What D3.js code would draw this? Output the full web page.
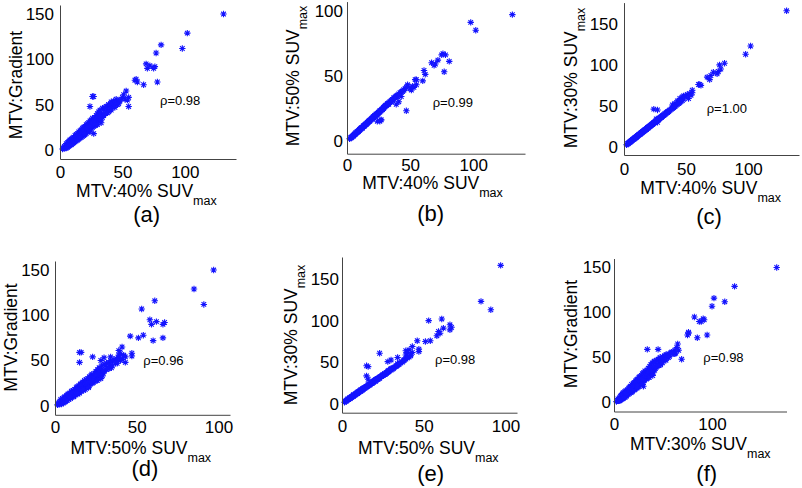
<!DOCTYPE html>
<html><head><meta charset="utf-8">
<script src="https://cdn.jsdelivr.net/npm/d3@7"></script>
<style>
body{margin:0;background:#fff}
svg{display:block}
text{font-family:"Liberation Sans",Arial,Helvetica,sans-serif;fill:#000}
</style>
</head><body>
<svg id="c" width="802" height="488"></svg>
<script>
// ---- data: metabolic tumour volume per lesion, four segmentation methods ----
const mtv40 = [131,102,98,81,77,78,76,75,72,69,70,67,61,62,60,53,51,50,52,55,54,55,48,45,43,41,39,26,27,24,47,
 2,3,3.5,4,4.5,5,5,5.5,6,6, 6.5,7,7,7.5,8,8,8.5,9,9,9.5, 10,10,10.5,11,11,11.5,12,12,12.5,13,
 13,13.5,14,14,14.5,15,15,15.5,16,16, 16.5,17,17,17.5,18,18,18.5,19,19,19.5, 20,20,20.5,21,21,21.5,22,22,22.5,23,
 23,23.5,24,24,24.5,25,25,25.5,26,26, 26.5,27,27,27.5,28,28,28.5,29,29,29.5, 30,30,30.5,31,31,32,32,33,33,34,
 34,35,35,36,37,37,38,39,39,40, 40,41,42,43,44,45,46,47,48,
 3,4,5,6,7,8,9,10,11,12, 13,14,15,16,17,18,19,20,21,22, 23,24,25,26,27,28,29,30,31,32, 33,35,36,38,41,44];
const mtv50 = [97,85,91,61,53,66,67,66,62,58,59,60,54,51,46,41,39,40,42,47,47,43,43,39,34,30,28,15,16,15,23,
 1.5,2,2.5,3,3.5,4,3.5,4.5,4.5,5, 5,5.5,6,6,6.5,7,7,7.5,7,8, 8,8.5,9,9,9.5,10,10,9.5,10.5,11,
 11.5,11,12,11.5,12.5,13,12.5,13,13.5,14, 14,14.5,15,15,15.5,15,16,16.5,16,17, 17,17.5,18,18,18.5,18.5,19,19.5,19,20,
 20.5,20,21,20.5,21,22,21.5,22,22.5,23, 23,23.5,16,24,24.5,24,25,25,25.5,26, 26,26.5,27,27,27.5,28,28.5,29,28.5,30,
 29.5,31,30,31.5,32,33,33.5,34,34.5,35, 34,36,37,37.5,38,39,40,41,42,
 2.5,3,4,5,6,6.5,7.5,8.5,9.5,10, 11,12,12.5,13.5,14.5,15.5,16,17,18,19, 19.5,20.5,21.5,22,23,24,25,26,27,28, 28,30,31.5,33,35,38];
const mtv30 = [166,123,113,102,100,95,92,89,91,82,87,85,76,75,76,65,64,62,59,66,63,69,62,59,56,53,51,34,45,46,61,
 2.5,3.5,4,5,5.5,6,6.5,7,7.5,7, 8,8.5,9,9,10,9.5,10.5,11,11.5,11, 12,12.5,13,13.5,13,14,15,14.5,15,16,
 15.5,16.5,17,17.5,17,18,18.5,19,19.5,19, 20,20.5,21,21,22,21.5,22.5,23,23.5,23, 24,24.5,25,25.5,25,26,26.5,27,27.5,28,
 27.5,28.5,29,29.5,30,30,30.5,31,31.5,31, 32,33,30,33.5,34,33.5,34.5,35,35.5,36, 36.5,36,37,37.5,38,38.5,39,40,40.5,41,
 41.5,42,43,43.5,44.5,45,46,47,47.5,48, 48.5,49.5,50.5,52,53,54,55.5,56.5,58,
 4,5,6,7.5,8.5,9.5,11,12,13.5,14.5, 15.5,17,18,19.5,20.5,21.5,23,24,25.5,26.5, 27.5,29,30,31,32.5,33.5,35,36,37.5,38.5, 39.5,42,43,46,49.5,53];
const gradient = [150,129,112,116,107,75,92,90,93,95,90,72,78,75,77,65,61,58,56,58,55,48,54,56,54,53,50,59,59,48,54,
 1,2,4,2,5,3,7,4,8,3, 5,9,4,10,6,11,7,12,6,8, 13,7,10,14,8,12,16,9,11,17,
 10,14,18,11,15,20,12,16,21,13, 17,22,14,19,24,15,20,25,16,21, 26,17,22,28,18,24,29,20,25,30,
 21,27,32,22,28,33,24,29,35,25, 31,26,18,33,36,27,30,38,28,34, 40,30,35,42,31,38,44,33,40,46,
 36,45,39,47,41,48,44,50,42,49, 45,51,47,52,49,53,50,51,55,
 2,3,2,4,8,5,6,11,10,13, 15,12,16,14,19,22,23,18,25,24, 26,20,27,31,29,32,35,28,37,34, 30,38,40,41,44,47];

// axis limits and ticks
const lim40 = [0,141], lim50x = [0,107], lim30x = [0,176];
const limGrad = [-10,160], lim50y = [-10,107], lim30y = [-10,176];
const ticks40 = [0,50,100], ticks50 = [0,50,100], ticks30x = [0,100];
const ticksGrad = [0,50,100,150], ticks50y = [0,50,100], ticks30y = [0,50,100,150];
const captions = ["(a)","(b)","(c)","(d)","(e)","(f)"];
const rhoLabels = ["ρ=0.98","ρ=0.99","ρ=1.00","ρ=0.96","ρ=0.98","ρ=0.98"];

const panels = [
 {x:mtv40, y:gradient, xd:lim40, yd:limGrad, xt:ticks40, yt:ticksGrad, xl:["MTV:40% SUV","max"], yl:["MTV:Gradient",""]},
 {x:mtv40, y:mtv50,    xd:lim40, yd:lim50y,  xt:ticks40, yt:ticks50y,  xl:["MTV:40% SUV","max"], yl:["MTV:50% SUV","max"]},
 {x:mtv40, y:mtv30,    xd:lim40, yd:lim30y,  xt:ticks40, yt:ticks30y,  xl:["MTV:40% SUV","max"], yl:["MTV:30% SUV","max"]},
 {x:mtv50, y:gradient, xd:lim50x, yd:limGrad, xt:ticks50, yt:ticksGrad, xl:["MTV:50% SUV","max"], yl:["MTV:Gradient",""]},
 {x:mtv50, y:mtv30,    xd:lim50x, yd:lim30y, xt:ticks50, yt:ticks30y,  xl:["MTV:50% SUV","max"], yl:["MTV:30% SUV","max"]},
 {x:mtv30, y:gradient, xd:lim30x, yd:limGrad, xt:ticks30x, yt:ticksGrad, xl:["MTV:30% SUV","max"], yl:["MTV:Gradient",""]}
];

// layout (pixel geometry)
const layout = [
 {L:60, R:236, T:5,   B:159,   xlx:146.4, xly:197,   ylx:21.7,  yly:85,    cx:146.7, cy:222,   rx:160,   ry:105,   pad:6,   xoff:19},
 {L:347,R:525, T:1.6, B:153.7, xlx:432.5, xly:189,   ylx:299,   yly:76,    cx:430.7, cy:221,   rx:432.7, ry:106.7, pad:4,   xoff:17},
 {L:624,R:799, T:2.6, B:155,   xlx:710.7, xly:194,   ylx:576.7, yly:78,    cx:709,   cy:224,   rx:706.7, ry:113,   pad:6,   xoff:19.5},
 {L:55, R:230, T:261, B:414.8, xlx:140.8, xly:453.5, ylx:16.7,  yly:337.5, cx:145,   cy:476,   rx:143.3, ry:365,   pad:5.5, xoff:18},
 {L:342,R:517, T:257, B:412.7, xlx:428.3, xly:453.5, ylx:296.7, yly:335,   cx:430.7, cy:480.5, rx:435,   ry:364.3, pad:3,   xoff:19.5},
 {L:614,R:786.5,T:258.5,B:411.5,xlx:700.3, xly:450,   ylx:576.7, yly:334,   cx:706.7, cy:480.5, rx:703.3, ry:361.7, pad:3,   xoff:18.5}
];

const FS = 17, LFS = 17.5, SUB = 12.5;
const svg = d3.select("#c");
const star = "M-3.2,0H3.2M0,-3.2V3.2M-2.3,-2.3L2.3,2.3M-2.3,2.3L2.3,-2.3";

panels.forEach((p, i) => {
  const g = layout[i];
  const xs = d3.scaleLinear().domain(p.xd).range([g.L, g.R]);
  const ys = d3.scaleLinear().domain(p.yd).range([g.B, g.T]);

  const pts = svg.append("g");
  pts.selectAll("path").data(p.x.map((v, k) => [v, p.y[k]])).join("path")
    .attr("d", star)
    .attr("transform", d => `translate(${xs(d[0])},${ys(d[1])})`)
    .attr("fill", "none").attr("stroke", "#1414ff").attr("stroke-width", 1.1);

  const ax = svg.append("g").attr("transform", `translate(0,${g.B})`)
    .call(d3.axisBottom(xs).tickValues(p.xt).tickSize(0).tickSizeOuter(0)
      .tickPadding(g.xoff - 0.71 * FS).tickFormat(d3.format("d")));
  const ay = svg.append("g").attr("transform", `translate(${g.L},0)`)
    .call(d3.axisLeft(ys).tickValues(p.yt).tickSize(0).tickSizeOuter(0)
      .tickPadding(g.pad).tickFormat(d3.format("d")));
  [ax, ay].forEach(a => {
    a.select(".domain").attr("stroke", "#444").attr("stroke-width", 1);
    a.selectAll("text").attr("font-size", FS).attr("font-family", '"Liberation Sans",Arial,sans-serif').attr("fill", "#000");
  });

  const xl = svg.append("text").attr("x", g.xlx).attr("y", g.xly)
    .attr("text-anchor", "middle").attr("font-size", LFS);
  xl.append("tspan").text(p.xl[0]);
  xl.append("tspan").attr("font-size", SUB).attr("dy", 8).text(p.xl[1]);

  const yl = svg.append("text").attr("transform", `translate(${g.ylx},${g.yly}) rotate(-90)`)
    .attr("text-anchor", "middle").attr("font-size", LFS);
  yl.append("tspan").text(p.yl[0]);
  if (p.yl[1]) yl.append("tspan").attr("font-size", SUB).attr("dy", 8).text(p.yl[1]);

  svg.append("text").attr("x", g.rx).attr("y", g.ry).attr("font-size", 13).text(rhoLabels[i]);
  svg.append("text").attr("x", g.cx).attr("y", g.cy).attr("text-anchor", "middle")
    .attr("font-size", 22).text(captions[i]);
});
</script>
</body></html>
